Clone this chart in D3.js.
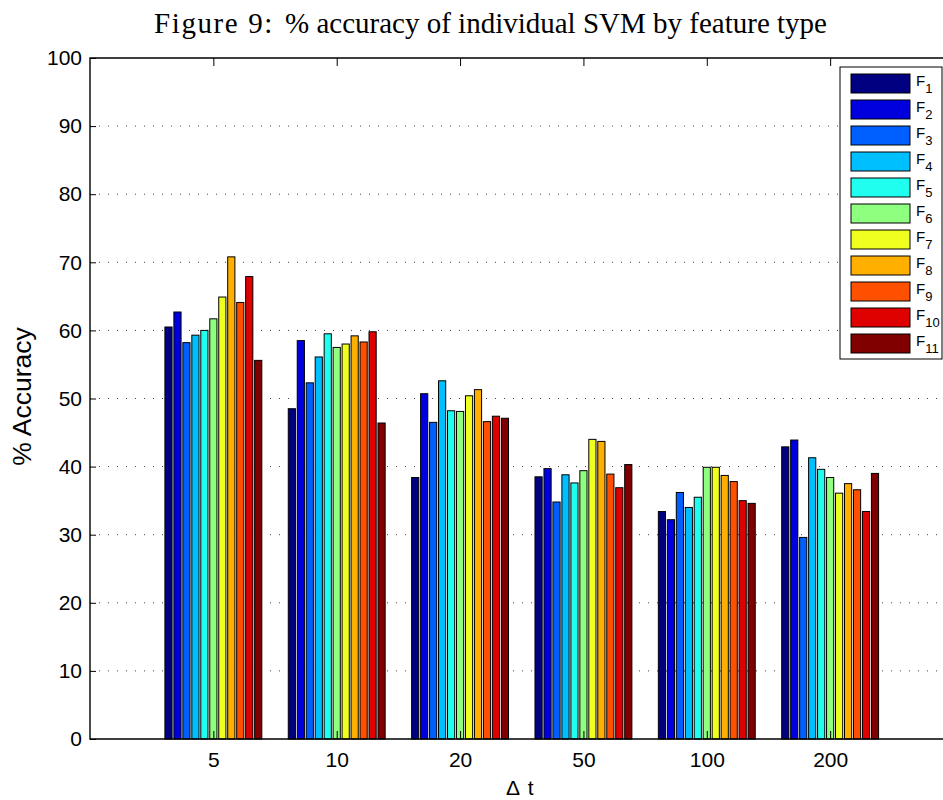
<!DOCTYPE html>
<html>
<head>
<meta charset="utf-8">
<script src="https://d3js.org/d3.v7.min.js"></script>
<style>
  body { margin: 0; background: #fff; }
  svg { display: block; }
  .axis text { font-family: "Liberation Sans", Arial, sans-serif; font-size: 21px; fill: #000; }
</style>
</head>
<body>
<svg id="chart" width="943" height="800"></svg>
<script>
'use strict';

// Δt groups on the x axis
const categories = ['5', '10', '20', '50', '100', '200'];
const features = ['1', '2', '3', '4', '5', '6', '7', '8', '9', '10', '11'];
const colors = ['#000080', '#0000df', '#0060ff', '#00bfff', '#20ffef', '#8fff80',
    '#efff20', '#ffaf00', '#ff5000', '#df0000', '#800000'];
const yTicks = [0, 10, 20, 30, 40, 50, 60, 70, 80, 90, 100];

// % accuracy per feature F1..F11, one array per Δt
const acc5 = [60.5, 62.7, 58.2, 59.3, 60.0, 61.7, 64.9, 70.8, 64.1, 67.9, 55.6];
const acc10 = [48.5, 58.5, 52.3, 56.1, 59.5, 57.5, 58.0, 59.2, 58.3, 59.8, 46.4];
const acc20 = [38.4, 50.7, 46.5, 52.6, 48.2, 48.1, 50.4, 51.3, 46.6, 47.4, 47.1];
const acc50 = [38.5, 39.7, 34.8, 38.8, 37.6, 39.4, 44.0, 43.7, 38.9, 36.9, 40.3];
const acc100 = [33.4, 32.2, 36.2, 34.0, 35.5, 39.9, 39.9, 38.7, 37.8, 35.0, 34.6];
const acc200 = [42.9, 43.9, 29.6, 41.3, 39.6, 38.4, 36.1, 37.5, 36.6, 33.4, 39.0];
const groups = [acc5, acc10, acc20, acc50, acc100, acc200];

const PLOT = { left: 90, top: 58, right: 953.5, bottom: 739 };
const GROUP_WIDTH = 0.8;

const svg = d3.select('#chart');

// matlab-ish xlim [0, 7]: categories sit at 1..6, the right edge runs off the page
const x = d3.scaleLinear().domain([0, categories.length + 1]).range([PLOT.left, PLOT.right]);
const y = d3.scaleLinear().domain([0, 100]).range([PLOT.bottom, PLOT.top]);

const slot = (x(GROUP_WIDTH) - x(0)) / features.length;
const barW = slot * 0.8;

// dotted horizontal grid
svg.append('g')
    .selectAll('line')
    .data(yTicks.slice(1, -1))
    .enter()
    .append('line')
    .attr('x1', PLOT.left)
    .attr('x2', PLOT.right)
    .attr('y1', (d) => y(d))
    .attr('y2', (d) => y(d))
    .attr('stroke', '#444')
    .attr('stroke-width', 1)
    .attr('stroke-dasharray', '1,8');

// bars
let flat = [];
groups.forEach((vals, gi) => {
    vals.forEach((v, fi) => flat.push({ g: gi, f: fi, v: v }));
});

svg.append('g')
    .selectAll('rect')
    .data(flat)
    .enter()
    .append('rect')
    .attr('x', (d) => x(d.g + 1) - (slot * features.length) / 2 + (d.f + 0.5) * slot - barW / 2)
    .attr('width', barW)
    .attr('y', (d) => y(d.v))
    .attr('height', (d) => y(0) - y(d.v))
    .attr('fill', (d) => colors[d.f])
    .attr('stroke', '#000')
    .attr('stroke-width', 1);

// axes (ticks point inwards)
svg.append('g')
    .attr('class', 'axis')
    .attr('transform', `translate(${PLOT.left},0)`)
    .call(d3.axisLeft(y).tickValues(yTicks).tickSize(-6).tickSizeOuter(0).tickPadding(8))
    .call((g) => g.select('.domain').remove());

svg.append('g')
    .attr('class', 'axis')
    .attr('transform', `translate(0,${PLOT.bottom})`)
    .call(d3.axisBottom(x).tickValues(d3.range(1, categories.length + 1))
        .tickFormat((d) => categories[d - 1]).tickSize(-8).tickSizeOuter(0).tickPadding(13))
    .call((g) => g.select('.domain').remove());

svg.append('g')
    .attr('class', 'axis')
    .attr('transform', `translate(0,${PLOT.top})`)
    .call(d3.axisTop(x).tickValues(d3.range(1, categories.length + 1))
        .tickFormat('').tickSize(-8).tickSizeOuter(0))
    .call((g) => g.select('.domain').remove());

svg.selectAll('.axis .tick line').attr('stroke', '#000').attr('stroke-width', 1);

// box
svg.append('path')
    .attr('d', `M${PLOT.right},${PLOT.top}H${PLOT.left}V${PLOT.bottom}H${PLOT.right}`)
    .attr('fill', 'none')
    .attr('stroke', '#000')
    .attr('stroke-width', 1.4);

// axis labels
svg.append('text')
    .attr('x', (PLOT.left + PLOT.right) / 2 - 2)
    .attr('y', 795)
    .attr('text-anchor', 'middle')
    .style('font-family', '"Liberation Sans", Arial, sans-serif')
    .style('font-size', '21px')
    .style('word-spacing', '3px')
    .text('Δ t');

svg.append('text')
    .attr('transform', `translate(31,${(PLOT.top + PLOT.bottom) / 2 - 2}) rotate(-90)`)
    .attr('text-anchor', 'middle')
    .style('font-family', '"Liberation Sans", Arial, sans-serif')
    .style('font-size', '26.5px')
    .text('% Accuracy');

// title
let title = svg.append('g')
    .style('font-family', '"Liberation Serif", "Times New Roman", serif')
    .style('font-size', '29px');
title.append('text')
    .attr('x', 154)
    .attr('y', 33)
    .style('letter-spacing', '1.6px')
    .text('Figure 9:');
title.append('text')
    .attr('x', 285)
    .attr('y', 33)
    .text('% accuracy of individual SVM by feature type');

// legend
const legend = svg.append('g').attr('transform', 'translate(840,67)');
legend.append('rect')
    .attr('width', 102)
    .attr('height', 292)
    .attr('fill', '#fff')
    .attr('stroke', '#000')
    .attr('stroke-width', 1);

let items = legend.selectAll('g.item')
    .data(features)
    .enter()
    .append('g')
    .attr('class', 'item')
    .attr('transform', (d, i) => `translate(11,${7 + i * 26})`);

items.append('rect')
    .attr('width', 59)
    .attr('height', 19)
    .attr('fill', (d, i) => colors[i])
    .attr('stroke', '#000')
    .attr('stroke-width', 1);

let labels = items.append('text')
    .attr('x', 65)
    .attr('y', 12)
    .style('font-family', '"Liberation Sans", Arial, sans-serif')
    .style('font-size', '15px');
labels.append('tspan').text('F');
labels.append('tspan')
    .attr('dy', 7)
    .style('font-size', '13px')
    .text((d) => d);
</script>
</body>
</html>
